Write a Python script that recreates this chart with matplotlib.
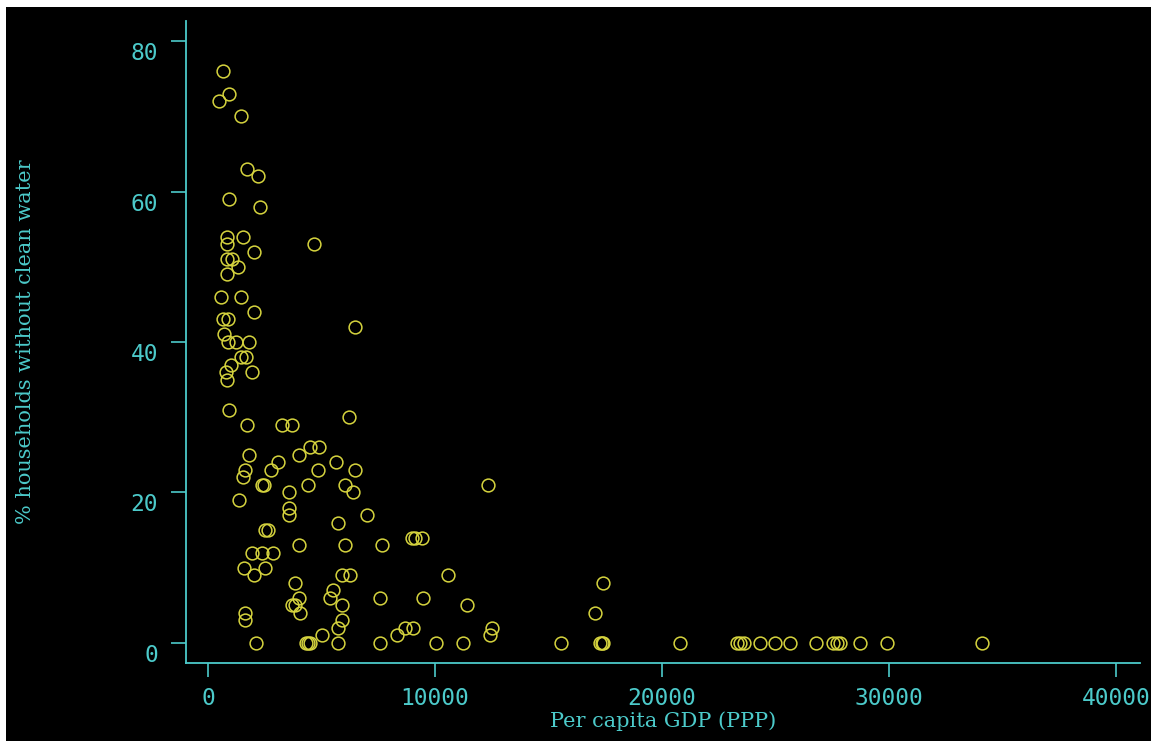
import numpy as np
import matplotlib.pyplot as plt
from matplotlib.patches import Rectangle
from matplotlib.transforms import ScaledTranslation

# Per capita GDP (PPP) vs % households without clean water
gdp = [650, 480, 930, 1450, 1720, 2200, 925, 2290,
       840, 1540, 840, 2030, 4670, 840, 1060, 1320, 840,
       570, 1450, 2030, 660, 880, 700, 880, 1230, 1810,
       1450, 1670, 1010, 790, 1940, 840, 925, 1720, 3260, 3700,
       6470, 6210,
       1810, 1630, 1540, 2780, 3080, 2400, 2480, 1370,
       4010, 4490, 4890, 5640, 4850, 3570, 3570, 3570, 4400,
       2500, 2650, 1940, 2380, 2860, 1590, 2030, 2510, 4010,
       3830, 4010, 3700, 3830, 4050, 1630, 1630, 2110,
       4300, 4400, 4500, 5020, 5730,
       6470, 6030, 6380, 7000, 6030, 7660, 8980, 9100, 9430,
       5900, 6250, 10570, 12330, 5510, 5370, 5900, 7580, 9470, 11410,
       5900, 5730, 5730, 7580, 8330, 8680, 9030, 10040, 11230, 12510, 12420,
       15550, 17400, 17050, 17250, 17350, 17400, 20790,
       23300, 23450, 23600, 24320, 24980, 25640, 26780, 27550, 27700, 27840,
       28720, 29910, 34100]
no_water = [76, 72, 73, 70, 63, 62, 59, 58,
            54, 54, 53, 52, 53, 51, 51, 50, 49,
            46, 46, 44, 43, 43, 41, 40, 40, 40,
            38, 38, 37, 36, 36, 35, 31, 29, 29, 29,
            42, 30,
            25, 23, 22, 23, 24, 21, 21, 19,
            25, 26, 26, 24, 23, 20, 18, 17, 21,
            15, 15, 12, 12, 12, 10, 9, 10, 13,
            8, 6, 5, 5, 4, 4, 3, 0,
            0, 0, 0, 1, 16,
            23, 21, 20, 17, 13, 13, 14, 14, 14,
            9, 9, 9, 21, 7, 6, 5, 6, 6, 5,
            3, 2, 0, 0, 1, 2, 2, 0, 0, 2, 1,
            0, 8, 4, 0, 0, 0, 0,
            0, 0, 0, 0, 0, 0, 0, 0, 0, 0,
            0, 0, 0]

xticks = [0, 10000, 20000, 30000, 40000]
yticks = [0, 20, 40, 60, 80]

cyan = '#4ccaca'
yellow = '#d6d43e'

W, H = 1151, 741
fig = plt.figure(figsize=(W / 100, H / 100), dpi=100, facecolor='white')
fig.patches.append(Rectangle((6 / W, 0), 1, 1 - 7 / H, transform=fig.transFigure,
                             facecolor='black', edgecolor='none', zorder=-10))

ax = fig.add_axes([186 / W, 1 - 663 / H, (1140 - 186) / W, (663 - 21) / H])
ax.set_facecolor('black')

ax.plot(gdp, no_water, linestyle='none', marker='o', ms=9.2, mfc='none',
        mec=yellow, mew=1.1)

ax.set_xlim(-969, 41057)
ax.set_ylim(-2.66, 82.66)
ax.set_xticks(xticks)
ax.set_yticks(yticks)
ax.set_xticklabels([str(t) for t in xticks])
ax.set_yticklabels([str(t) for t in yticks])

for s in ['top', 'right']:
    ax.spines[s].set_visible(False)
for s in ['left', 'bottom']:
    ax.spines[s].set_color(cyan)
    ax.spines[s].set_linewidth(1.3)

ax.tick_params(axis='both', colors=cyan, width=1.2, direction='out',
               labelsize=16.5)
ax.tick_params(axis='y', length=11, pad=9)
ax.tick_params(axis='x', length=10, pad=7)
for lab in ax.get_xticklabels() + ax.get_yticklabels():
    lab.set_family('DejaVu Sans Mono')
# tick labels on y sit a bit below their ticks
for lab in ax.get_yticklabels():
    lab.set_transform(lab.get_transform() + ScaledTranslation(0, -0.10, fig.dpi_scale_trans))

ax.set_xlabel('Per capita GDP (PPP)', color=cyan, family='DejaVu Serif', fontsize=15)
ax.set_ylabel('% households without clean water', color=cyan, family='DejaVu Serif',
              fontsize=15)
ax.xaxis.set_label_coords(0.5, -0.076)
ax.yaxis.set_label_coords(-0.158, 0.5)

fig.savefig('out.png', dpi=100, facecolor=fig.get_facecolor())
